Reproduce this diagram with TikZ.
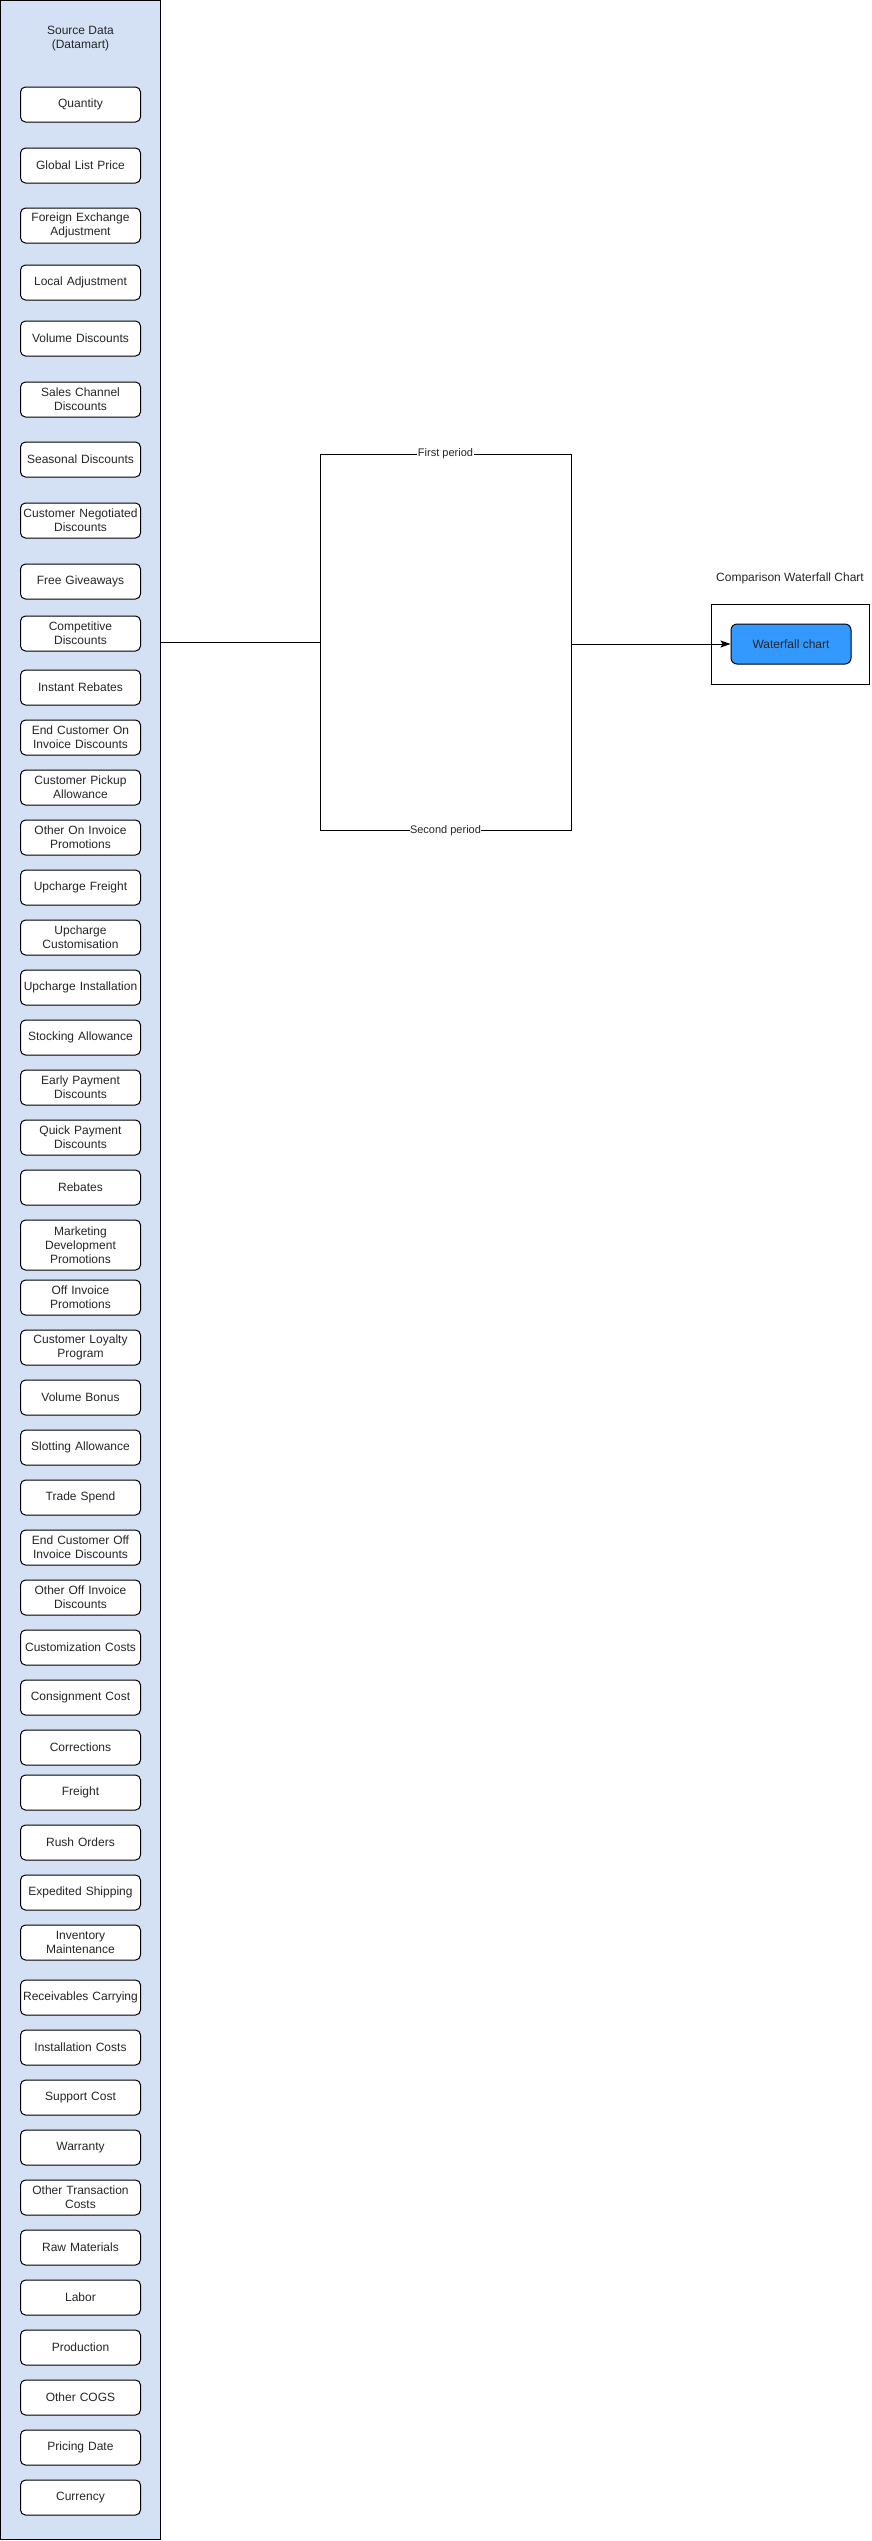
\documentclass[tikz,border=0pt]{standalone}
\usepackage{fontspec}
\setmainfont{Liberation Sans}
\usepackage{tikz}
\usetikzlibrary{arrows.meta}
\definecolor{srcblue}{HTML}{D4E1F5}
\definecolor{wfblue}{HTML}{3399FF}
\tikzstyle{panel}=[draw, fill=srcblue, line width=1pt, minimum width=160pt, minimum height=2539pt, inner sep=0pt]
\tikzstyle{item}=[draw, fill=white, line width=1pt, rounded corners=5pt, minimum width=120pt, minimum height=35pt, text width=118pt, inner sep=1pt, align=center, text=black!85, font=\fontsize{12}{14}\selectfont]
\tikzstyle{frame}=[draw, line width=1pt, inner sep=0pt]
\tikzstyle{lbl}=[text=black!85, font=\fontsize{12}{14}\selectfont, align=center]

\begin{document}
\begin{tikzpicture}[x=1pt,y=-1pt,node distance=50pt,>={Stealth[length=10pt,width=7pt,inset=2pt]}]
\useasboundingbox (0,0) rectangle (871,2541);
% source data column
\node [panel] (src) at (80.5,1270) {};
\node [lbl] (srctitle) at (80.5,39) {Source Data\\(Datamart)};
\node [item] (qty) at (80.5,104.5) {Quantity};
\node [item] (glp) [below of=qty, node distance=61pt] {Global List Price};
\node [item] (fxa) [below of=glp, node distance=60pt] {Foreign Exchange\\Adjustment};
\node [item] (loc) [below of=fxa, node distance=57pt] {Local Adjustment};
\node [item] (vold) [below of=loc, node distance=56pt] {Volume Discounts};
\node [item] (scd) [below of=vold, node distance=61pt] {Sales Channel\\Discounts};
\node [item] (sea) [below of=scd, node distance=60pt] {Seasonal Discounts};
\node [item] (cnd) [below of=sea, node distance=61pt] {Customer Negotiated\\Discounts};
\node [item] (free) [below of=cnd, node distance=61pt] {Free Giveaways};
\node [item] (comp) [below of=free, node distance=52pt] {Competitive\\Discounts};
\node [item] (inst) [below of=comp, node distance=54pt] {Instant Rebates};
\node [item] (econ) [below of=inst] {End Customer On\\Invoice Discounts};
\node [item] (cpa) [below of=econ] {Customer Pickup\\Allowance};
\node [item] (ooi) [below of=cpa] {Other On Invoice\\Promotions};
\node [item] (upf) [below of=ooi] {Upcharge Freight};
\node [item] (upc) [below of=upf] {Upcharge\\Customisation};
\node [item] (upi) [below of=upc] {Upcharge Installation};
\node [item] (stk) [below of=upi] {Stocking Allowance};
\node [item] (epd) [below of=stk] {Early Payment\\Discounts};
\node [item] (qpd) [below of=epd] {Quick Payment\\Discounts};
\node [item] (reb) [below of=qpd] {Rebates};
\node [item, minimum height=50pt] (mdp) [below of=reb, node distance=57.5pt] {Marketing\\Development\\Promotions};
\node [item] (oip) [below of=mdp, node distance=52.5pt] {Off Invoice\\Promotions};
\node [item] (clp) [below of=oip] {Customer Loyalty\\Program};
\node [item] (vbn) [below of=clp] {Volume Bonus};
\node [item] (slot) [below of=vbn] {Slotting Allowance};
\node [item] (trade) [below of=slot] {Trade Spend};
\node [item] (ecoff) [below of=trade] {End Customer Off\\Invoice Discounts};
\node [item] (ooff) [below of=ecoff] {Other Off Invoice\\Discounts};
\node [item] (cust) [below of=ooff] {Customization Costs};
\node [item] (cons) [below of=cust] {Consignment Cost};
\node [item] (corr) [below of=cons] {Corrections};
\node [item] (frt) [below of=corr, node distance=45pt] {Freight};
\node [item] (rush) [below of=frt] {Rush Orders};
\node [item] (exps) [below of=rush] {Expedited Shipping};
\node [item] (invm) [below of=exps] {Inventory\\Maintenance};
\node [item] (recv) [below of=invm, node distance=55pt] {Receivables Carrying};
\node [item] (icost) [below of=recv] {Installation Costs};
\node [item] (sup) [below of=icost] {Support Cost};
\node [item] (warr) [below of=sup] {Warranty};
\node [item] (otc) [below of=warr] {Other Transaction\\Costs};
\node [item] (raw) [below of=otc] {Raw Materials};
\node [item] (lab) [below of=raw] {Labor};
\node [item] (prod) [below of=lab] {Production};
\node [item] (cogs) [below of=prod] {Other COGS};
\node [item] (pdate) [below of=cogs] {Pricing Date};
\node [item] (cur) [below of=pdate] {Currency};
% periods
\node [frame, minimum width=251pt, minimum height=376pt] (mid) at (445.5,642) {};
\node [fill=white, inner sep=0.5pt, text=black!85, font=\fontsize{11}{13}\selectfont] (first) at (mid.north) {First period};
\node [fill=white, inner sep=0.5pt, text=black!85, font=\fontsize{11}{13}\selectfont] (second) at (mid.south) {Second period};
% output
\node [frame, minimum width=158pt, minimum height=80pt] (out) at (790,644) {};
\node [lbl] (outtitle) at (790,578) {Comparison Waterfall Chart};
\node [draw, fill=wfblue, line width=1pt, rounded corners=6pt, minimum width=120pt, minimum height=40pt, text=black!85, font=\fontsize{12}{14}\selectfont] (wf) at (791,644) {Waterfall chart};
\draw[line width=1pt] (src.east |- mid.west) -- (mid.west);
\draw[->, line width=1pt] (mid.east |- wf.west) -- (wf.west);
\end{tikzpicture}
\end{document}
